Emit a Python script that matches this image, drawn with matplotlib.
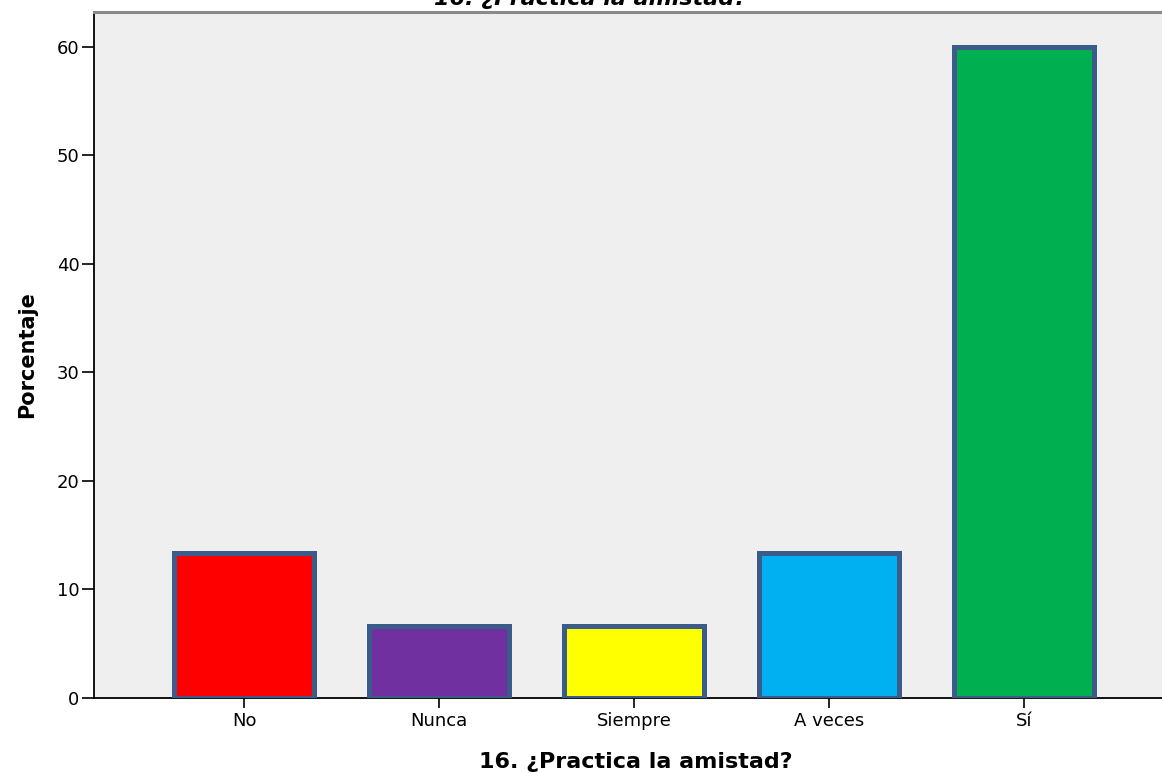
import matplotlib
matplotlib.use("Agg")
import matplotlib.pyplot as plt

categories = ["No", "Nunca", "Siempre", "A veces", "Sí"]
percentages = [13.33, 6.67, 6.67, 13.33, 60.0]
bar_colors = ["#FF0000", "#7030A0", "#FFFF00", "#00B0F0", "#00B050"]
yticks = [0, 10, 20, 30, 40, 50, 60]

plt.rcParams["font.family"] = ["DejaVu Sans"]

W, H = 1162, 773
fig = plt.figure(figsize=(W / 100, H / 100), dpi=100)
ax = fig.add_axes([94 / W, 75 / H, (1178 - 94) / W, (698 - 12) / H])
ax.set_facecolor("#EFEFEF")

x = list(range(len(categories)))
ax.bar(x, percentages, width=0.72, color=bar_colors,
       edgecolor="#3B5B8A", linewidth=3.6, zorder=3)

ax.set_xlim(-0.77, 4.79)
ax.set_ylim(0, 63.2)
ax.set_yticks(yticks)
ax.set_xticks(x)
ax.set_xticklabels(categories, fontsize=13)
ax.tick_params(axis="y", labelsize=13, length=8.5, width=1.2, pad=2)
ax.tick_params(axis="x", length=7, width=1.2, pad=3)

for s in ("left", "bottom"):
    ax.spines[s].set_color("black")
    ax.spines[s].set_linewidth(1.3)
ax.spines["top"].set_color("#8A8A8A")
ax.spines["top"].set_linewidth(2.2)
ax.spines["right"].set_visible(False)

ax.set_ylabel("Porcentaje", fontsize=15, fontweight="bold", labelpad=14)
ax.set_xlabel("16. ¿Practica la amistad?", fontsize=16, fontweight="bold", labelpad=16)

fig.text(590 / W, 1 - 5 / H, "16. ¿Practica la amistad?", fontsize=16,
         fontweight="bold", fontstyle="italic", ha="center", va="baseline")

fig.savefig("out.png", dpi=100)
